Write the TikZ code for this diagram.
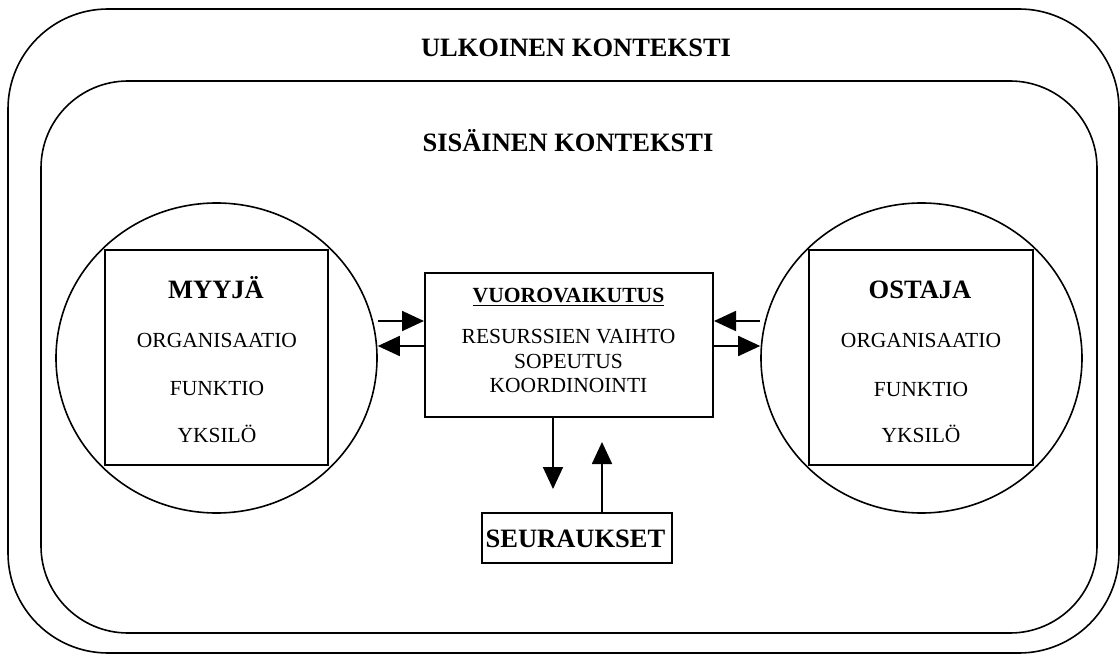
\documentclass[tikz,border=0pt]{standalone}
\usepackage{fontspec}
\setmainfont{Liberation Serif}
\usetikzlibrary{arrows.meta,shapes.geometric}
\begin{document}
\begin{tikzpicture}[x=1pt,y=-1pt,
  frame/.style={draw, line width=1.6pt},
  boxed/.style={draw, line width=2pt, inner sep=0pt},
  lbl/.style={anchor=base, inner sep=0pt},
  big/.style={font=\fontsize{26.5}{31}\selectfont\bfseries},
  med/.style={font=\fontsize{21.5}{25}\selectfont},
  medb/.style={font=\fontsize{21.6}{25}\selectfont\bfseries},
  arr/.style={line width=1.8pt, -{Triangle[length=22pt,width=20pt]}}]
\useasboundingbox (0,0) rectangle (1120,655);

% external and internal context
\draw[frame, rounded corners=100pt] (8,9) rectangle (1119,653);
\draw[frame, rounded corners=87pt] (41,81) rectangle (1097,633);
\node[lbl,big] (ulk) at (576,56.7) {ULKOINEN KONTEKSTI};
\node[lbl,big] (sis) at (568,151.7) {SIS\"AINEN KONTEKSTI};

% seller
\node[draw, ellipse, line width=1.6pt, minimum width=321pt, minimum height=310pt, inner sep=0pt] (myyjaC) at (216.5,358) {};
\node[boxed, minimum width=223pt, minimum height=215pt] (myyjaB) at (216.5,357.5) {};
\node[lbl,big] (myyja) at (216,299) {MYYJ\"A};
\node[lbl,med] (myyjaO) at (217,348) {ORGANISAATIO};
\node[lbl,med] (myyjaF) at (217,395) {FUNKTIO};
\node[lbl,med] (myyjaY) at (217,442) {YKSIL\"O};

% buyer
\node[draw, ellipse, line width=1.6pt, minimum width=321pt, minimum height=310pt, inner sep=0pt] (ostajaC) at (921.5,358) {};
\node[boxed, minimum width=224pt, minimum height=215pt] (ostajaB) at (921,357.5) {};
\node[lbl,big] (ostaja) at (920,299) {OSTAJA};
\node[lbl,med] (ostajaO) at (921,347) {ORGANISAATIO};
\node[lbl,med] (ostajaF) at (921,396) {FUNKTIO};
\node[lbl,med] (ostajaY) at (921,442) {YKSIL\"O};

% interaction
\node[boxed, minimum width=288pt, minimum height=144pt] (vuoro) at (569,345) {};
\node[lbl,medb] (vuoroT) at (568.5,303) {\underline{VUOROVAIKUTUS}};
\node[lbl,med] (vuoro1) at (568.5,343) {RESURSSIEN VAIHTO};
\node[lbl,med] (vuoro2) at (568.5,368) {SOPEUTUS};
\node[lbl,med] (vuoro3) at (568.5,392) {KOORDINOINTI};

% consequences
\node[boxed, minimum width=190pt, minimum height=50pt] (seur) at (577,538) {};
\node[lbl,big] (seurT) at (575.5,547) {SEURAUKSET};

% exchange arrows
\coordinate (rowA) at (0,321);
\coordinate (rowB) at (0,346);
\draw[arr] (myyjaC.east |- rowA) -- (vuoro.west |- rowA);
\draw[arr] (vuoro.west |- rowB) -- (myyjaC.east |- rowB);
\draw[arr] (ostajaC.west |- rowA) -- (vuoro.east |- rowA);
\draw[arr] (vuoro.east |- rowB) -- (ostajaC.west |- rowB);

% arrows to and from the consequences
\coordinate (downtip) at (553,489);
\coordinate (uptip) at (602,442);
\draw[arr] (vuoro.south -| downtip) -- (downtip);
\draw[arr] (seur.north -| uptip) -- (uptip);
\end{tikzpicture}
\end{document}
